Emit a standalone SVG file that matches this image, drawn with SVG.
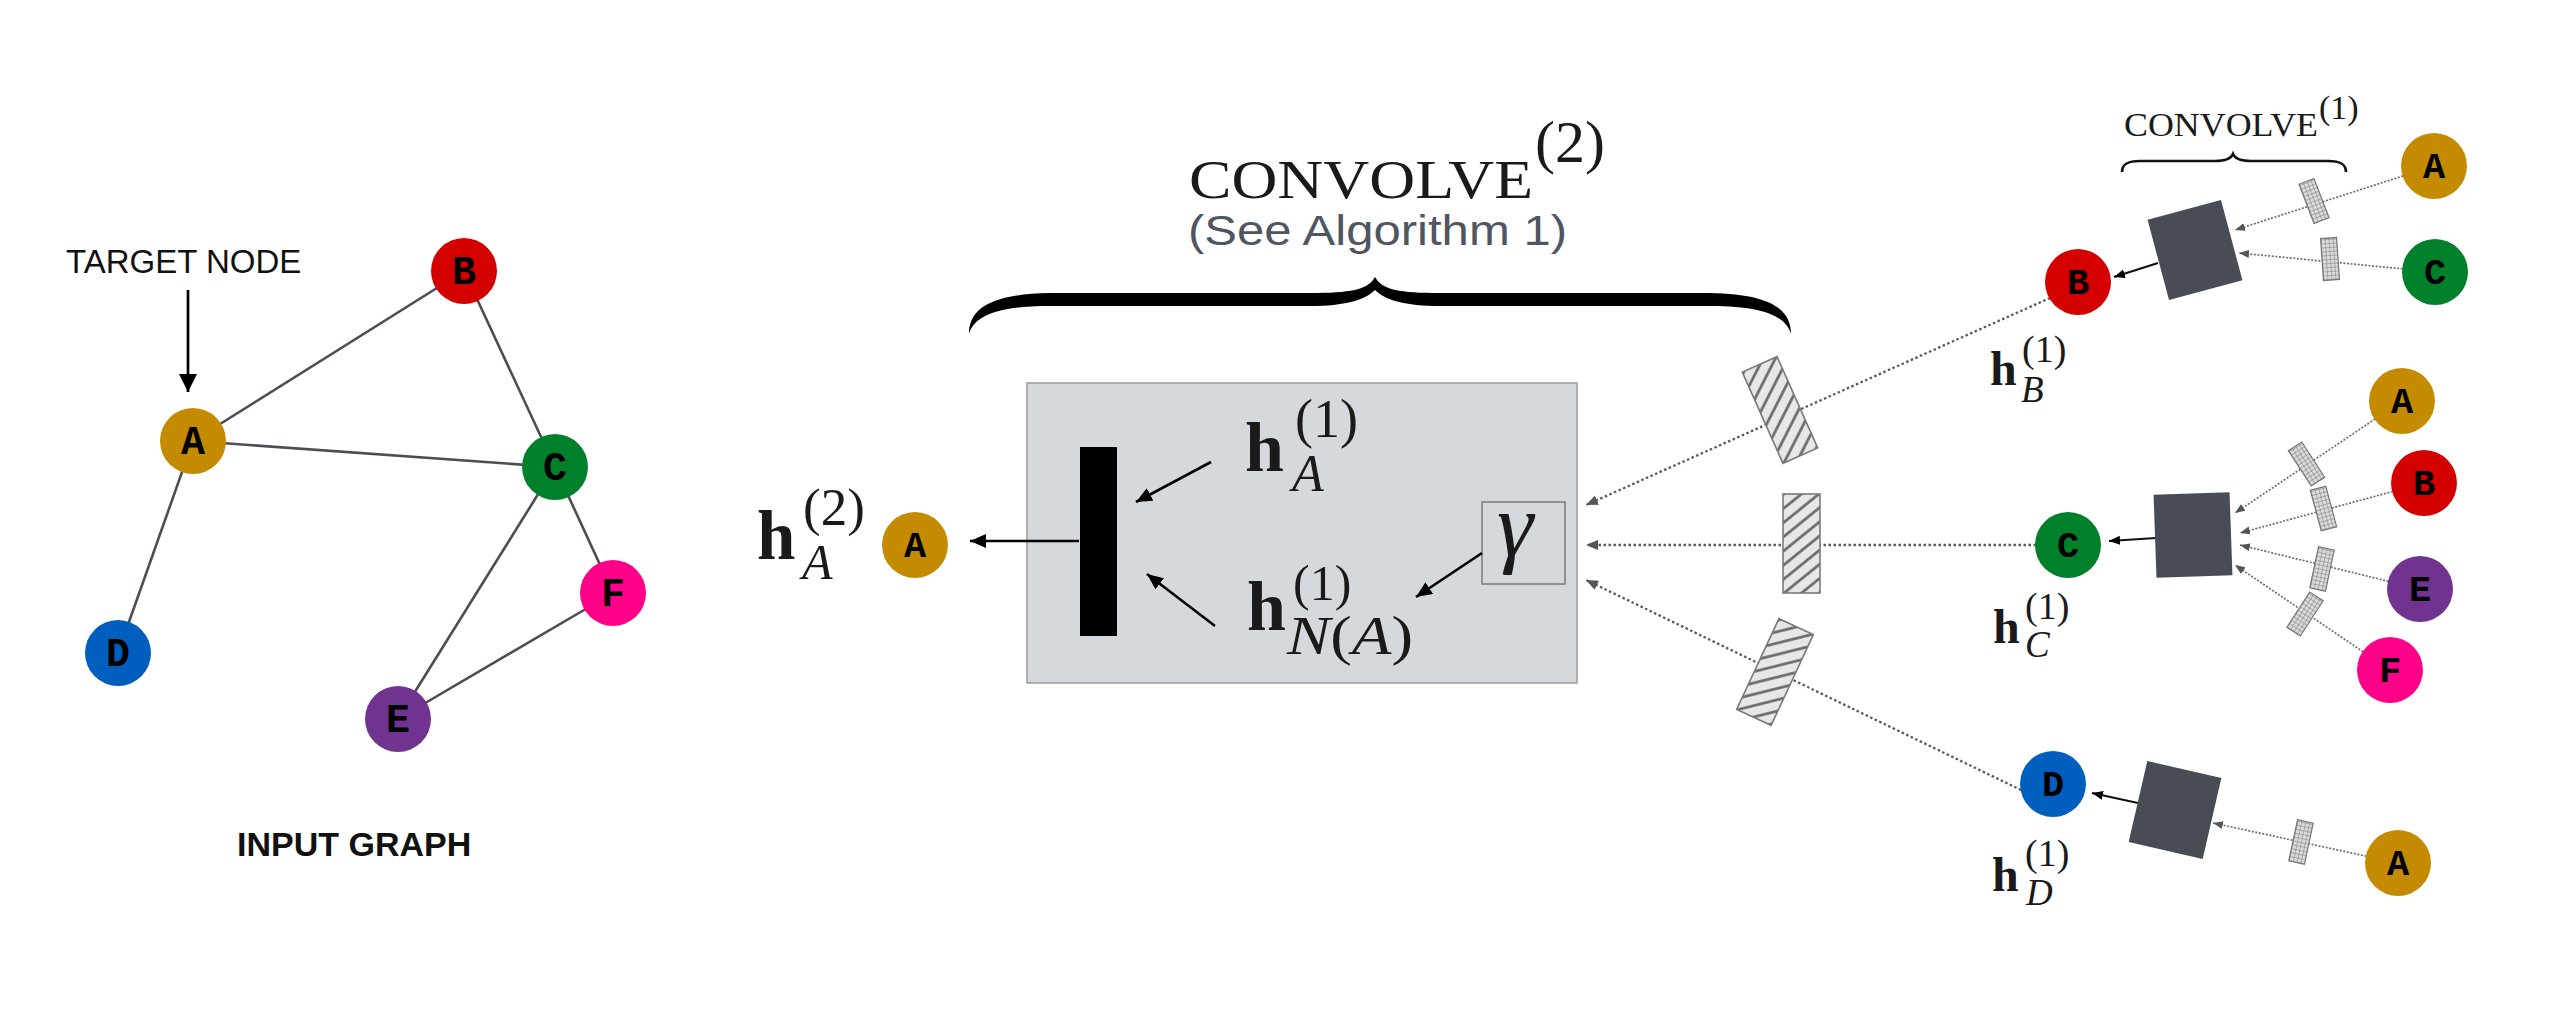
<svg xmlns="http://www.w3.org/2000/svg" width="2576" height="1024" viewBox="0 0 2576 1024">
<style>
.edge{stroke:#4b4f55;stroke-width:2.6;fill:none}
.dot{stroke:#5a5a5a;stroke-width:2.3;stroke-dasharray:2.5 2.5;fill:none}
.dots{stroke:#6e6e6e;stroke-width:1.7;stroke-dasharray:2 1.6;fill:none}
.arr{stroke:#000;stroke-width:2.6;fill:none}
.arrs{stroke:#111;stroke-width:2.2;fill:none}
.lbl{font-family:"Liberation Mono",monospace;font-weight:bold;font-size:40px;text-anchor:middle;fill:#000}
.lbls{font-family:"Liberation Mono",monospace;font-weight:bold;font-size:37px;text-anchor:middle;fill:#000}
.hb{font-family:"Liberation Serif",serif;font-weight:bold;fill:#1a1a1a}
.sr{font-family:"Liberation Serif",serif;fill:#1a1a1a}
.si{font-family:"Liberation Serif",serif;font-style:italic;fill:#1a1a1a}
.sans{font-family:"Liberation Sans",Arial,sans-serif}
.hatch{fill:url(#hatch);stroke:#7a7a7a;stroke-width:1.6}
.grid{fill:url(#grid);stroke:#777;stroke-width:1.2}
.sq{fill:#484d55}
</style>
<defs>
<pattern id="hatch" patternUnits="userSpaceOnUse" width="11" height="11" patternTransform="rotate(-39)">
<rect width="11" height="11" fill="#e6e7e9"/>
<line x1="0" y1="5.5" x2="11" y2="5.5" stroke="#666" stroke-width="2.6"/>
</pattern>
<pattern id="grid" patternUnits="userSpaceOnUse" width="4" height="4">
<rect width="4" height="4" fill="#dcdcdc"/>
<path d="M0,0 H4 M0,0 V4" stroke="#777" stroke-width="1"/>
</pattern>
<marker id="mt" markerUnits="userSpaceOnUse" markerWidth="20" markerHeight="20" refX="18" refY="9" orient="auto"><path d="M0,0 L18,9 L0,18 z" fill="#000"/></marker>
<marker id="mb" markerUnits="userSpaceOnUse" markerWidth="18" markerHeight="14" refX="16" refY="7" orient="auto"><path d="M0,0 L16,7 L0,14 z" fill="#000"/></marker>
<marker id="mg" markerUnits="userSpaceOnUse" markerWidth="14" markerHeight="12" refX="12" refY="5" orient="auto"><path d="M0,0 L12,5 L0,10 z" fill="#555"/></marker>
<marker id="ms" markerUnits="userSpaceOnUse" markerWidth="12" markerHeight="10" refX="11" refY="4.5" orient="auto"><path d="M0,0 L11,4.5 L0,9 z" fill="#000"/></marker>
<marker id="mgs" markerUnits="userSpaceOnUse" markerWidth="12" markerHeight="10" refX="10" refY="4" orient="auto"><path d="M0,0 L10,4 L0,8 z" fill="#555"/></marker>
</defs>
<rect width="2576" height="1024" fill="#fff"/>

<!-- convolve box (drawn first so its arrows lie on top) -->
<g id="convolve-box">
<rect x="1027" y="383" width="550" height="300" fill="#d5d8dc" stroke="#9a9a9a" stroke-width="1.5"/>
<rect x="1080" y="447" width="37" height="189" fill="#000"/>
<text class="hb" x="1245" y="471" font-size="70">h</text>
<text class="sr" x="1295" y="437" font-size="54">(1)</text>
<text class="si" x="1292" y="491" font-size="52">A</text>
<text class="hb" x="1247" y="630" font-size="70">h</text>
<text class="sr" x="1293" y="600" font-size="50">(1)</text>
<text class="sr" x="1287" y="654" font-size="54" textLength="126" lengthAdjust="spacingAndGlyphs"><tspan font-style="italic">N</tspan>(<tspan font-style="italic">A</tspan>)</text>
<rect x="1482" y="502" width="83" height="82" fill="none" stroke="#7a7a7a" stroke-width="1.5"/>
<text class="si" x="1497" y="556" font-size="92">γ</text>
</g>

<!-- connectors -->
<g id="connectors">
<line class="edge" x1="193" y1="441" x2="464" y2="271"/>
<line class="edge" x1="193" y1="441" x2="555" y2="467"/>
<line class="edge" x1="193" y1="441" x2="118" y2="653"/>
<line class="edge" x1="464" y1="271" x2="555" y2="467"/>
<line class="edge" x1="555" y1="467" x2="398" y2="719"/>
<line class="edge" x1="555" y1="467" x2="613" y2="593"/>
<line class="edge" x1="398" y1="719" x2="613" y2="593"/>
<line x1="188" y1="290" x2="188" y2="392" stroke="#000" stroke-width="2.7" marker-end="url(#mt)"/>

<line class="dot" x1="2050" y1="298" x2="1586" y2="505" marker-end="url(#mg)"/>
<line class="dot" x1="2036" y1="545" x2="1586" y2="545" marker-end="url(#mg)"/>
<line class="dot" x1="2021" y1="790" x2="1586" y2="580" marker-end="url(#mg)"/>

<line class="arr" x1="1079" y1="541" x2="970" y2="541" marker-end="url(#mb)"/>
<line class="arr" x1="1211" y1="462" x2="1136" y2="502" marker-end="url(#mb)"/>
<line class="arr" x1="1215" y1="626" x2="1147" y2="574" marker-end="url(#mb)"/>
<line class="arr" x1="1482" y1="553" x2="1416" y2="597" marker-end="url(#mb)"/>

<line class="dots" x1="2434" y1="166" x2="2235" y2="230" marker-end="url(#mgs)"/>
<line class="dots" x1="2435" y1="272" x2="2239" y2="253" marker-end="url(#mgs)"/>
<line class="dots" x1="2402" y1="401" x2="2235" y2="513" marker-end="url(#mgs)"/>
<line class="dots" x1="2424" y1="483" x2="2240" y2="533" marker-end="url(#mgs)"/>
<line class="dots" x1="2420" y1="589" x2="2240" y2="545" marker-end="url(#mgs)"/>
<line class="dots" x1="2390" y1="670" x2="2235" y2="565" marker-end="url(#mgs)"/>
<line class="dots" x1="2398" y1="863" x2="2213" y2="823" marker-end="url(#mgs)"/>

<line class="arrs" x1="2158" y1="263" x2="2114" y2="277" marker-end="url(#ms)"/>
<line class="arrs" x1="2156" y1="538" x2="2109" y2="541" marker-end="url(#ms)"/>
<line class="arrs" x1="2138" y1="803" x2="2092" y2="793" marker-end="url(#ms)"/>
</g>

<!-- input graph nodes -->
<g id="g-A"><circle cx="193" cy="441" r="33" fill="#c58b00"/><text class="lbl" x="193" y="454">A</text></g>
<g id="g-B"><circle cx="464" cy="271" r="33" fill="#d40000"/><text class="lbl" x="464" y="284">B</text></g>
<g id="g-C"><circle cx="555" cy="467" r="33" fill="#00802a"/><text class="lbl" x="555" y="480">C</text></g>
<g id="g-D"><circle cx="118" cy="653" r="33" fill="#005ebf"/><text class="lbl" x="118" y="666">D</text></g>
<g id="g-E"><circle cx="398" cy="719" r="33" fill="#70338f"/><text class="lbl" x="398" y="732">E</text></g>
<g id="g-F"><circle cx="613" cy="593" r="33" fill="#ff0088"/><text class="lbl" x="613" y="606">F</text></g>

<g id="target-label"><text class="sans" x="66" y="273" font-size="33" fill="#111">TARGET NODE</text></g>
<g id="input-graph-label"><text class="sans" x="237" y="856" font-size="34" font-weight="bold" fill="#111">INPUT GRAPH</text></g>

<!-- convolve 2 title and brace -->
<g id="convolve2-title">
<text class="sr" x="1189" y="198" font-size="54" textLength="344" lengthAdjust="spacingAndGlyphs">CONVOLVE</text>
<text class="sr" x="1535" y="162" font-size="60">(2)</text>
<text class="sans" x="1188" y="245" font-size="43" textLength="379" lengthAdjust="spacingAndGlyphs" fill="#4f5661">(See Algorithm 1)</text>
<path d="M969,334 C969,312 985,294 1050,293 L1310,293 C1350,293 1368,290 1375,277 C1382,290 1400,293 1440,293 L1710,293 C1775,294 1791,312 1791,334 C1786,318 1768,306 1710,306 L1440,306 C1405,306 1385,300 1375,290 C1365,300 1345,306 1310,306 L1050,306 C992,306 974,318 969,334 Z" fill="#000"/>
</g>

<g id="out-A">
<circle cx="915" cy="545" r="33" fill="#c58b00"/><text class="lbls" x="915" y="557">A</text>
<text class="hb" x="757" y="559" font-size="69">h</text>
<text class="sr" x="803" y="525" font-size="53">(2)</text>
<text class="si" x="802" y="579" font-size="50">A</text>
</g>

<!-- hatched weight blocks -->
<g id="w-B"><rect class="hatch" x="-19" y="-50" width="38" height="100" transform="translate(1780,410) rotate(-24)"/></g>
<g id="w-C"><rect class="hatch" x="-18.5" y="-49.5" width="37" height="99" transform="translate(1801.5,543.5)"/></g>
<g id="w-D"><rect class="hatch" x="-19" y="-50" width="38" height="100" transform="translate(1775,672) rotate(25)"/></g>

<!-- convolve 1 (B) -->
<g id="conv1-B">
<text class="sr" x="2124" y="136" font-size="33" textLength="194" lengthAdjust="spacingAndGlyphs">CONVOLVE</text>
<text class="sr" x="2319" y="119" font-size="34">(1)</text>
<path d="M2122,172 C2122,164 2128,161 2140,161 L2215,161 C2226,161 2231,159 2233,154 C2235,159 2240,161 2251,161 L2328,161 C2340,161 2346,164 2346,172" fill="none" stroke="#111" stroke-width="2.6"/>
<rect class="sq" x="-38" y="-41.5" width="76" height="83" transform="translate(2195,250) rotate(-15)"/>
<rect class="grid" x="-8" y="-21" width="16" height="42" transform="translate(2314,201) rotate(-21)"/>
<rect class="grid" x="-8" y="-21" width="16" height="42" transform="translate(2330,259) rotate(-4)"/>
</g>
<g id="n-B1"><circle cx="2078" cy="282" r="33" fill="#d40000"/><text class="lbls" x="2078" y="294">B</text></g>
<g id="n-B1-A"><circle cx="2434" cy="166" r="33" fill="#c58b00"/><text class="lbls" x="2434" y="178">A</text></g>
<g id="n-B1-C"><circle cx="2435" cy="272" r="33" fill="#00802a"/><text class="lbls" x="2435" y="284">C</text></g>
<g id="h-B"><text class="hb" x="1990" y="385" font-size="48">h</text><text class="sr" x="2022" y="362" font-size="38">(1)</text><text class="si" x="2021" y="402" font-size="37">B</text></g>

<!-- convolve 1 (C) -->
<g id="conv1-C">
<rect class="sq" x="-38" y="-41.5" width="76" height="83" transform="translate(2193,535) rotate(-2)"/>
<rect class="grid" x="-8" y="-21" width="16" height="42" transform="translate(2306.5,464) rotate(-33)"/>
<rect class="grid" x="-8" y="-21" width="16" height="42" transform="translate(2323.5,508.5) rotate(-15)"/>
<rect class="grid" x="-8" y="-21" width="16" height="42" transform="translate(2322,569) rotate(12)"/>
<rect class="grid" x="-8" y="-21" width="16" height="42" transform="translate(2305,614) rotate(33)"/>
</g>
<g id="n-C1"><circle cx="2068" cy="545" r="33" fill="#00802a"/><text class="lbls" x="2068" y="557">C</text></g>
<g id="n-C1-A"><circle cx="2402" cy="401" r="33" fill="#c58b00"/><text class="lbls" x="2402" y="413">A</text></g>
<g id="n-C1-B"><circle cx="2424" cy="483" r="33" fill="#d40000"/><text class="lbls" x="2424" y="495">B</text></g>
<g id="n-C1-E"><circle cx="2420" cy="589" r="33" fill="#70338f"/><text class="lbls" x="2420" y="601">E</text></g>
<g id="n-C1-F"><circle cx="2390" cy="670" r="33" fill="#ff0088"/><text class="lbls" x="2390" y="682">F</text></g>
<g id="h-C"><text class="hb" x="1993" y="643" font-size="48">h</text><text class="sr" x="2025" y="619" font-size="38">(1)</text><text class="si" x="2025" y="657" font-size="37">C</text></g>

<!-- convolve 1 (D) -->
<g id="conv1-D">
<rect class="sq" x="-38" y="-41.5" width="76" height="83" transform="translate(2175,810) rotate(13)"/>
<rect class="grid" x="-8" y="-21" width="16" height="42" transform="translate(2301,842) rotate(12)"/>
</g>
<g id="n-D1"><circle cx="2053" cy="784" r="33" fill="#005ebf"/><text class="lbls" x="2053" y="796">D</text></g>
<g id="n-D1-A"><circle cx="2398" cy="863" r="33" fill="#c58b00"/><text class="lbls" x="2398" y="875">A</text></g>
<g id="h-D"><text class="hb" x="1992" y="891" font-size="48">h</text><text class="sr" x="2025" y="866" font-size="38">(1)</text><text class="si" x="2026" y="905" font-size="37">D</text></g>
</svg>
